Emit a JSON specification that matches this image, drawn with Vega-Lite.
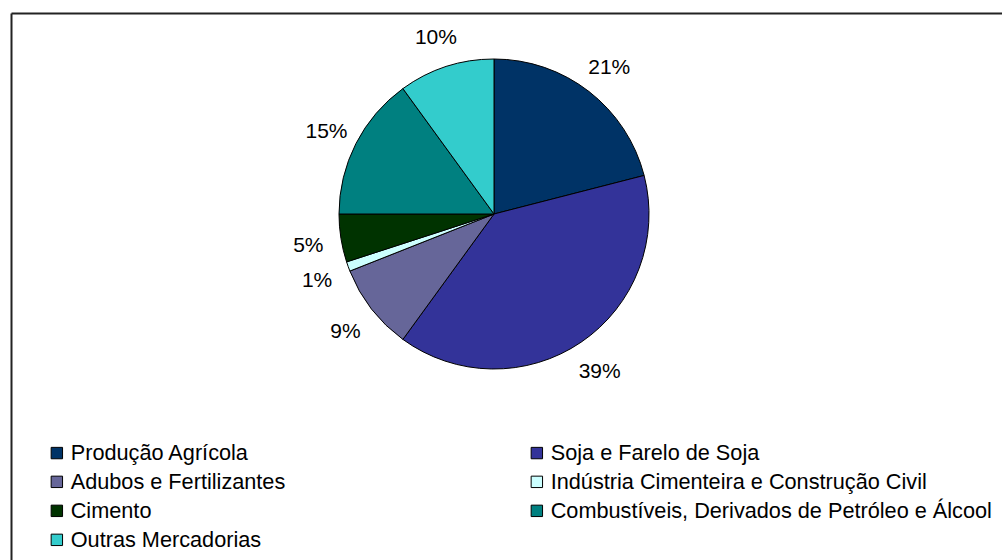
{
  "$schema": "https://vega.github.io/schema/vega-lite/v6.json",
  "width": 966,
  "height": 402,
  "padding": {"left": 11, "top": 13, "right": 0, "bottom": 0},
  "autosize": {"type": "pad"},
  "background": "white",
  "config": {
    "view": {"stroke": null},
    "font": "Liberation Sans",
    "legend": {
      "orient": "none",
      "legendX": 35,
      "legendY": 429,
      "columns": 2,
      "columnPadding": 240,
      "rowPadding": 6,
      "symbolType": "square",
      "symbolSize": 130,
      "symbolStrokeColor": "black",
      "symbolStrokeWidth": 1,
      "symbolOpacity": 1,
      "labelFontSize": 21.7,
      "labelFont": "Liberation Sans",
      "labelColor": "black",
      "labelOffset": 3,
      "labelLimit": 0
    }
  },
  "data": {
    "values": [
      {"k": 1, "cat": "Produção Agrícola", "value": 21, "label": "21%"},
      {"k": 2, "cat": "Soja e Farelo de Soja", "value": 39, "label": "39%"},
      {"k": 3, "cat": "Adubos e Fertilizantes", "value": 9, "label": "9%"},
      {"k": 4, "cat": "Indústria Cimenteira e Construção Civil", "value": 1, "label": "1%"},
      {"k": 5, "cat": "Cimento", "value": 5, "label": "5%"},
      {"k": 6, "cat": "Combustíveis, Derivados de Petróleo e Álcool", "value": 15, "label": "15%"},
      {"k": 7, "cat": "Outras Mercadorias", "value": 10, "label": "10%"}
    ]
  },
  "layer": [
    {
      "mark": {"type": "arc", "outerRadius": 155, "stroke": "black", "strokeWidth": 1},
      "encoding": {
        "theta": {"field": "value", "type": "quantitative", "stack": true},
        "order": {"field": "k", "type": "quantitative"},
        "color": {
          "field": "cat",
          "type": "nominal",
          "scale": {
            "domain": ["Produção Agrícola", "Adubos e Fertilizantes", "Cimento", "Outras Mercadorias", "Soja e Farelo de Soja", "Indústria Cimenteira e Construção Civil", "Combustíveis, Derivados de Petróleo e Álcool"],
            "range": ["#003366", "#666699", "#003300", "#33CCCC", "#333399", "#CCFFFF", "#008080"]
          },
          "legend": {"title": null}
        }
      }
    },
    {
      "mark": {"type": "text", "radius": 188, "dy": 3, "fontSize": 21, "font": "Liberation Sans", "color": "black"},
      "encoding": {
        "theta": {"field": "value", "type": "quantitative", "stack": true},
        "order": {"field": "k", "type": "quantitative"},
        "text": {"field": "label"}
      }
    },
    {
      "mark": {"type": "rule", "opacity": 0},
      "encoding": {
        "x": {
          "datum": 0,
          "type": "quantitative",
          "scale": {"domain": [0, 1], "range": [0, 991]},
          "axis": {"orient": "top", "domain": true, "domainColor": "#222222", "domainWidth": 2, "ticks": false, "labels": false, "grid": false, "title": null}
        }
      }
    },
    {
      "mark": {"type": "rule", "opacity": 0},
      "encoding": {
        "y": {
          "datum": 0,
          "type": "quantitative",
          "scale": {"domain": [0, 1], "range": [0, 547]},
          "axis": {"orient": "left", "domain": true, "domainColor": "#222222", "domainWidth": 2, "ticks": false, "labels": false, "grid": false, "title": null}
        }
      }
    }
  ]
}
